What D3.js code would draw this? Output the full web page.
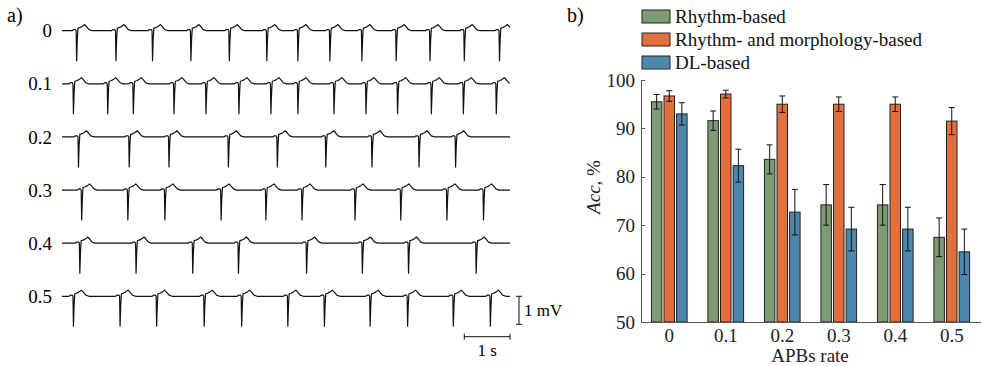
<!DOCTYPE html>
<html lang="en">
<head>
<meta charset="UTF-8">
<title>APB rate: ECG traces and accuracy</title>
<style>
  body { margin: 0; background: #fff; }
  svg { display: block; font-family: "Liberation Serif", "Times New Roman", serif; }
  .axis path, .axis line { stroke: #555; shape-rendering: crispEdges; }
  .axis text { font-family: "Liberation Serif", serif; font-size: 19px; fill: #222; }
</style>
</head>
<body>
<script src="https://cdn.jsdelivr.net/npm/d3@7"></script>
<script>
// ---- data: panel a (R/S-spike times in seconds)
const traceLabels = ["0", "0.1", "0.2", "0.3", "0.4", "0.5"];
const beats0  = [0.32, 1.18, 1.98, 2.82, 3.66, 4.48, 5.16, 5.86, 6.56, 7.31, 8.05, 8.80, 9.57];
const beats01 = [0.25, 1.00, 1.56, 2.45, 3.15, 3.87, 4.57, 5.16, 5.95, 6.65, 7.34, 8.08, 8.78, 9.50];
const beats02 = [0.36, 1.47, 2.34, 3.64, 4.71, 5.77, 6.78, 7.81, 8.61];
const beats03 = [0.43, 1.44, 2.25, 3.48, 4.46, 5.25, 6.41, 7.41, 8.42, 9.22];
const beats04 = [0.39, 1.62, 2.86, 3.86, 5.35, 6.57, 7.58, 9.06];
const beats05 = [0.25, 1.27, 2.07, 3.11, 3.93, 4.94, 5.74, 6.74, 7.56, 8.56, 9.37];
const traceBeats = [beats0, beats01, beats02, beats03, beats04, beats05];

// one beat shape, relative to the spike: time (s) and amplitude (mV)
const beatDt = [-0.10, -0.065, -0.025, -0.01, 0.0, 0.015, 0.03, 0.07, 0.12, 0.175, 0.22, 0.27, 0.34];
const beatMv = [0.0, 0.04, 0.04, 0.0, -1.07, -0.3, 0.09, 0.11, 0.15, 0.22, 0.14, 0.04, 0.0];
const traceSeconds = 9.8;

// ---- data: panel b
const rates = ["0", "0.1", "0.2", "0.3", "0.4", "0.5"];
const seriesNames = ["Rhythm-based", "Rhythm- and morphology-based", "DL-based"];
const seriesColors = ["#7f9b73", "#e2703f", "#4c87ad"];
const rhythmAcc = [95.5, 91.6, 83.6, 74.2, 74.2, 67.5];
const rhythmErr = [1.5, 2.0, 3.0, 4.2, 4.2, 4.0];
const morphAcc  = [96.7, 97.1, 95.0, 95.0, 95.0, 91.5];
const morphErr  = [1.1, 0.8, 1.7, 1.5, 1.5, 2.8];
const dlAcc     = [93.0, 82.3, 72.7, 69.2, 69.2, 64.5];
const dlErr     = [2.3, 3.4, 4.7, 4.5, 4.5, 4.7];
const yTicks = [50, 60, 70, 80, 90, 100];

const W = 983, H = 366;
const svg = d3.select("body").append("svg").attr("width", W).attr("height", H);

// ================= panel a =================
svg.append("text").attr("x", 7).attr("y", 22).attr("font-size", 20).text("a)");

const tScale = d3.scaleLinear([0, traceSeconds], [62, 510]);
const mvScale = d3.scaleLinear([0, 1], [0, -28]);
const rowScale = d3.scaleLinear([0, 5], [30.7, 296.3]);

svg.append("clipPath").attr("id", "traceClip")
  .append("rect").attr("x", tScale(0)).attr("y", 0)
  .attr("width", tScale(traceSeconds) - tScale(0)).attr("height", H);

const gA = svg.append("g");

traceBeats.forEach((beats, i) => {
  const pts = [[0, 0]];
  beats.forEach(b => beatDt.forEach((dt, k) => pts.push([b + dt, beatMv[k]])));
  pts.push([traceSeconds + 0.5, 0]);
  const base = rowScale(i);
  const line = d3.line().x(d => tScale(d[0])).y(d => base + mvScale(d[1]));

  gA.append("path")
    .attr("d", line(pts))
    .attr("fill", "none")
    .attr("stroke", "#111")
    .attr("stroke-width", 1.2)
    .attr("stroke-linejoin", "round")
    .attr("clip-path", "url(#traceClip)");

  gA.append("text")
    .attr("x", 52).attr("y", base).attr("dy", "0.35em")
    .attr("text-anchor", "end").attr("font-size", 19)
    .text(traceLabels[i]);
});

// scale bars
const mvX = 519, mvTop = rowScale(5);
gA.append("line").attr("x1", mvX).attr("x2", mvX)
  .attr("y1", mvTop).attr("y2", mvTop + mvScale(-1)).attr("stroke", "#111");
[0, -1].forEach(v => gA.append("line")
  .attr("x1", mvX - 3).attr("x2", mvX + 3)
  .attr("y1", mvTop + mvScale(v)).attr("y2", mvTop + mvScale(v)).attr("stroke", "#111"));
gA.append("text").attr("x", 524).attr("y", mvTop + mvScale(-0.5)).attr("dy", "0.35em")
  .attr("font-size", 17).text("1 mV");

const sY = 336.7;
gA.append("line").attr("x1", tScale(traceSeconds - 1)).attr("x2", tScale(traceSeconds))
  .attr("y1", sY).attr("y2", sY).attr("stroke", "#111");
[traceSeconds - 1, traceSeconds].forEach(t => gA.append("line")
  .attr("x1", tScale(t)).attr("x2", tScale(t))
  .attr("y1", sY - 3).attr("y2", sY + 3).attr("stroke", "#111"));
gA.append("text").attr("x", tScale(traceSeconds - 0.5)).attr("y", 356)
  .attr("text-anchor", "middle").attr("font-size", 17).text("1 s");

// ================= panel b =================
svg.append("text").attr("x", 567).attr("y", 22).attr("font-size", 20).text("b)");

const x0 = d3.scaleBand().domain(rates).range([641, 980]);
const x1 = d3.scaleBand().domain(seriesNames).range([-17.85, 17.85]).paddingInner(0.167);
const y = d3.scaleLinear([50, 100], [322, 80]);

const seriesAcc = [rhythmAcc, morphAcc, dlAcc];
const seriesErr = [rhythmErr, morphErr, dlErr];

const gB = svg.append("g");
seriesNames.forEach((name, s) => {
  rates.forEach((r, i) => {
    const cx = x0(r) + x0.bandwidth() / 2 + x1(name);
    const v = seriesAcc[s][i], e = seriesErr[s][i];
    gB.append("rect")
      .attr("x", cx).attr("y", y(v))
      .attr("width", x1.bandwidth()).attr("height", y(50) - y(v))
      .attr("fill", seriesColors[s])
      .attr("stroke", "#222").attr("stroke-width", 1);
    const mx = cx + x1.bandwidth() / 2;
    gB.append("line").attr("x1", mx).attr("x2", mx)
      .attr("y1", y(v - e)).attr("y2", y(v + e)).attr("stroke", "#111");
    [v - e, v + e].forEach(w => gB.append("line")
      .attr("x1", mx - 3).attr("x2", mx + 3)
      .attr("y1", y(w)).attr("y2", y(w)).attr("stroke", "#111"));
  });
});

svg.append("g").attr("class", "axis")
  .attr("transform", "translate(641,0)")
  .call(d3.axisLeft(y).tickValues(yTicks).tickSizeInner(-4).tickSizeOuter(0).tickPadding(6));

svg.append("g").attr("class", "axis")
  .attr("transform", "translate(0,322)")
  .call(d3.axisBottom(x0).tickSize(0).tickPadding(7));

svg.append("text").attr("x", 810).attr("y", 362)
  .attr("text-anchor", "middle").attr("font-size", 19).attr("fill", "#222").text("APBs rate");

const yLab = svg.append("text")
  .attr("transform", "translate(600,187) rotate(-90)")
  .attr("text-anchor", "middle").attr("font-size", 19).attr("fill", "#222");
yLab.append("tspan").attr("font-style", "italic").text("Acc");
yLab.append("tspan").text(", %");

// legend
const leg = svg.append("g");
seriesNames.forEach((name, s) => {
  const ly = 10 + s * 23;
  leg.append("rect").attr("x", 642).attr("y", ly).attr("width", 28).attr("height", 13)
    .attr("fill", seriesColors[s]).attr("stroke", "#222");
  leg.append("text").attr("x", 675).attr("y", ly + 6.5).attr("dy", "0.35em")
    .attr("font-size", 19).attr("fill", "#111").text(name);
});
</script>
</body>
</html>
